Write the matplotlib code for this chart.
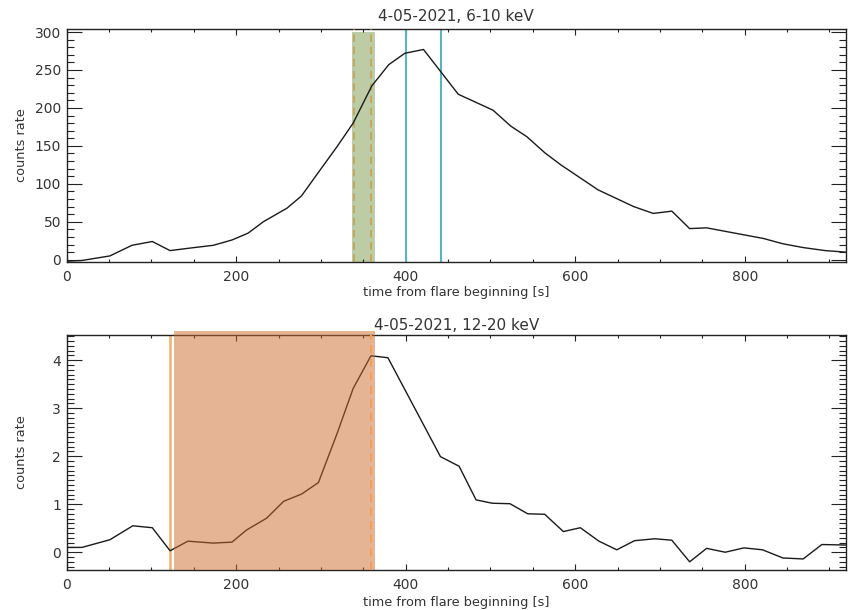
import matplotlib
matplotlib.use("Agg")
import matplotlib.pyplot as plt
from matplotlib.ticker import MultipleLocator

# ---- data ----
t_low = [0, 18, 51, 77, 101, 122, 143, 173, 195, 214, 232, 260, 277, 295, 319,
         338, 360, 380, 399, 421, 462, 503, 524, 543, 564, 583, 627, 669, 692,
         714, 735, 755, 798, 822, 845, 869, 895, 919]
c_low = [-2, -1, 5, 19, 24, 12, 15, 19, 26, 35, 50, 68, 84, 112, 149,
         180, 229, 257, 272, 277, 218, 197, 176, 162, 141, 125, 92, 70, 61,
         64, 41, 42, 33, 28, 21, 16, 12, 10]

t_high = [0, 18, 51, 78, 101, 122, 143, 173, 195, 212, 236, 256, 277, 297, 319,
          338, 359, 379, 441, 463, 483, 502, 523, 544, 564, 586, 606, 628, 649,
          670, 694, 714, 735, 755, 777, 799, 821, 845, 869, 891, 919]
c_high = [0.10, 0.10, 0.26, 0.55, 0.51, 0.03, 0.23, 0.19, 0.21, 0.46, 0.71, 1.06,
          1.21, 1.45, 2.47, 3.41, 4.09, 4.05, 1.99, 1.79, 1.09, 1.02, 1.01, 0.80,
          0.79, 0.43, 0.51, 0.23, 0.05, 0.24, 0.28, 0.25, -0.20, 0.08, 0.00, 0.09,
          0.05, -0.12, -0.14, 0.16, 0.15]

titles = ["4-05-2021, 6-10 keV", "4-05-2021, 12-20 keV"]
xlabel = "time from flare beginning [s]"
ylabel = "counts rate"

# marked intervals
green_band = (336.9, 363.3)
green_dashes = [339.4, 359.1]
cyan_lines = [400, 441.6]
orange_band = (126.6, 363.3)
orange_solid = 122
orange_dash = 359

XMAX = 919

fig = plt.figure(figsize=(8.55, 6.10), dpi=100)
ax1 = fig.add_axes([0.078, 0.5705, 0.911, 0.382])
ax2 = fig.add_axes([0.078, 0.0656, 0.911, 0.385])

tick_color = "#333333"


def style(ax, ymajor, yminor):
    ax.set_xlim(0, XMAX)
    ax.xaxis.set_major_locator(MultipleLocator(200))
    ax.xaxis.set_minor_locator(MultipleLocator(50))
    ax.yaxis.set_major_locator(MultipleLocator(ymajor))
    ax.yaxis.set_minor_locator(MultipleLocator(yminor))
    ax.tick_params(axis="both", which="both", direction="in", top=True, right=True,
                   colors="#222222", labelcolor=tick_color, labelsize=10, width=0.8)
    ax.tick_params(axis="x", which="major", length=4.5, pad=6)
    ax.tick_params(axis="x", which="minor", length=2.5)
    ax.tick_params(axis="y", which="major", length=10.5, pad=4)
    ax.tick_params(axis="y", which="minor", length=5)
    for s in ax.spines.values():
        s.set_linewidth(1.0)
        s.set_color("#222222")
    ax.set_xlabel(xlabel, fontsize=9.3, color=tick_color)
    ax.set_ylabel(ylabel, fontsize=9.3, color=tick_color)
    ax.yaxis.set_label_coords(-0.05, 0.5)


# ---- top panel ----
ax1.set_ylim(-3, 304)
style(ax1, 50, 10)
ax1.xaxis.set_label_coords(0.5, -0.105)
ax1.set_title(titles[0], fontsize=11, color=tick_color, pad=6)
ax1.fill_betweenx([-3, 300], green_band[0], green_band[1], color="#7d9b4b",
                  alpha=0.5, lw=0, zorder=1)
for xd in green_dashes:
    ax1.axvline(xd, color="#c59a45", lw=1.1, ls=(0, (5, 3)), zorder=3, alpha=0.9)
for xc in cyan_lines:
    ax1.axvline(xc, color="#5ab4be", lw=1.5, zorder=2)
ax1.plot(t_low, c_low, color="#1a1a1a", lw=1.0, zorder=4)

# ---- bottom panel ----
ax2.set_ylim(-0.37, 4.52)
style(ax2, 1, 0.1)
ax2.xaxis.set_label_coords(0.5, -0.11)
ax2.set_title(titles[1], fontsize=11, color=tick_color, pad=4)
ax2.plot(t_high, c_high, color="#1a1a1a", lw=1.0, zorder=2)
ax2.axvline(orange_solid, color="#eebb77", lw=2.0, zorder=1)
ax2.axvspan(orange_band[0], orange_band[1], ymin=0, ymax=1.017, clip_on=False,
            color="#cc6a2d", alpha=0.5, lw=0, zorder=3)
ax2.axvline(orange_dash, color="#eea060", lw=1.5, ls=(0, (4, 2.5)), zorder=4)

fig.savefig("out.png", dpi=100)
